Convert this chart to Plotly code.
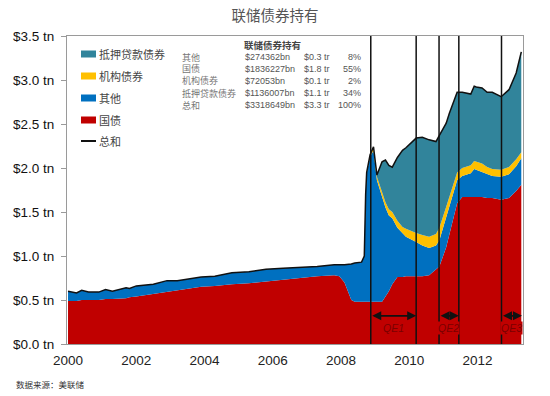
import plotly.graph_objects as go

# Decimal-year dates of observations
years = [2000.0, 2000.25, 2000.4, 2000.6, 2000.9, 2001.1, 2001.3, 2001.7, 2001.8, 2002.0,
         2002.5, 2002.9, 2003.2, 2003.5, 2003.9, 2004.3, 2004.8, 2005.3, 2005.8, 2006.3,
         2006.8, 2007.3, 2007.8, 2007.95, 2008.1, 2008.3, 2008.4, 2008.6, 2008.68, 2008.72,
         2008.75, 2008.85, 2008.95, 2009.05, 2009.2, 2009.3, 2009.4, 2009.5, 2009.65, 2009.8,
         2009.9, 2010.2, 2010.38, 2010.58, 2010.78, 2010.88, 2011.08, 2011.17, 2011.4, 2011.55,
         2011.8, 2011.9, 2011.96, 2012.13, 2012.28, 2012.43, 2012.69, 2012.92, 2013.13, 2013.28]

# Holdings in $ trillion
treasury = [0.49, 0.49, 0.50, 0.50, 0.50, 0.51, 0.51, 0.52, 0.53, 0.54,
            0.57, 0.59, 0.61, 0.63, 0.65, 0.66, 0.68, 0.69, 0.71, 0.73,
            0.75, 0.77, 0.78, 0.77, 0.70, 0.50, 0.48, 0.48, 0.48, 0.48,
            0.48, 0.48, 0.48, 0.48, 0.48, 0.54, 0.60, 0.68, 0.76, 0.76,
            0.77, 0.77, 0.77, 0.78, 0.84, 0.88, 1.10, 1.25, 1.60, 1.67,
            1.67, 1.67, 1.67, 1.67, 1.66, 1.66, 1.64, 1.66, 1.74, 1.81]
other = [0.11, 0.09, 0.11, 0.09, 0.09, 0.11, 0.09, 0.12, 0.10, 0.12,
         0.11, 0.13, 0.11, 0.11, 0.11, 0.11, 0.13, 0.13, 0.14, 0.13,
         0.12, 0.11, 0.12, 0.13, 0.20, 0.41, 0.44, 0.45, 0.52, 1.22,
         1.46, 1.65, 1.72, 1.38, 1.19, 1.01, 0.86, 0.75, 0.56, 0.50,
         0.45, 0.39, 0.35, 0.31, 0.28, 0.30, 0.35, 0.30, 0.26, 0.24,
         0.27, 0.32, 0.31, 0.29, 0.27, 0.25, 0.26, 0.27, 0.28, 0.30]
agency = [0, 0, 0, 0, 0, 0, 0, 0, 0, 0,
          0, 0, 0, 0, 0, 0, 0, 0, 0, 0,
          0, 0, 0, 0, 0, 0, 0, 0, 0, 0,
          0.01, 0.02, 0.04, 0.04, 0.06, 0.06, 0.07, 0.07, 0.08, 0.07,
          0.09, 0.10, 0.12, 0.13, 0.13, 0.14, 0.11, 0.12, 0.09, 0.09,
          0.09, 0.09, 0.09, 0.09, 0.08, 0.08, 0.08, 0.08, 0.08, 0.07]
mbs = [0, 0, 0, 0, 0, 0, 0, 0, 0, 0,
       0, 0, 0, 0, 0, 0, 0, 0, 0, 0,
       0, 0, 0, 0, 0, 0, 0, 0, 0, 0,
       0, 0, 0, 0.02, 0.34, 0.48, 0.50, 0.51, 0.72, 0.87,
       0.92, 1.08, 1.11, 1.10, 1.05, 1.05, 0.95, 0.95, 0.91, 0.86,
       0.81, 0.85, 0.85, 0.86, 0.85, 0.87, 0.83, 0.88, 0.98, 1.14]
total = [t + o + a + m for t, o, a, m in zip(treasury, other, agency, mbs)]

series_names = ["国债", "其他", "机构债券", "抵押贷款债券"]
series_colors = ["#C00000", "#0070C0", "#FFC000", "#31849B"]
total_name = "总和"
total_color = "#111111"

qe_lines = [2008.87, 2010.2, 2010.87, 2011.45, 2012.7]
qe_labels = ["QE1", "QE2", "QE3"]
qe_spans = [(2008.87, 2010.2), (2010.87, 2011.45), (2012.7, 2013.3)]

table_title = "联储债券持有"
table_rows = [
    ("其他", "$274362bn", "$0.3 tr", "8%"),
    ("国债", "$1836227bn", "$1.8 tr", "55%"),
    ("机构债券", "$72053bn", "$0.1 tr", "2%"),
    ("抵押贷款债券", "$1136007bn", "$1.1 tr", "34%"),
    ("总和", "$3318649bn", "$3.3 tr", "100%"),
]

y_ticks = [0, 0.5, 1.0, 1.5, 2.0, 2.5, 3.0, 3.5]
y_tick_text = ["$%.1f tn" % v for v in y_ticks]
x_ticks = [2000, 2002, 2004, 2006, 2008, 2010, 2012]

CJK = "Noto Sans CJK SC"
W, H = 550, 396
OFF = 8  # page body margin offset
L, R, T, B = 67 - OFF, 523 - OFF, 36 - OFF, 344 - OFF


def px_x(px):
    return (px - OFF - L) / (R - L)


def px_y(py):
    return (B - (py - OFF)) / (B - T)


fig = go.Figure()
for name, vals, col in zip(series_names, [treasury, other, agency, mbs], series_colors):
    fig.add_trace(go.Scatter(x=years, y=vals, name=name, stackgroup="s", mode="lines",
                             line=dict(width=0, color=col), fillcolor=col, showlegend=False))
fig.add_trace(go.Scatter(x=years, y=total, name=total_name, mode="lines",
                         line=dict(color=total_color, width=1.5), showlegend=False))

shapes = []
for xv in qe_lines:
    shapes.append(dict(type="line", xref="x", yref="y", x0=xv, x1=xv, y0=0, y1=3.5,
                       line=dict(color="#111111", width=1.5)))

annotations = []
for lab, (a, b) in zip(qe_labels, qe_spans):
    annotations.append(dict(x=b, y=0.32, ax=a, ay=0.32, xref="x", yref="y", axref="x", ayref="y",
                            text="", showarrow=True, arrowhead=2, arrowside="end+start",
                            arrowsize=1, arrowwidth=1.8, arrowcolor="#111111"))
    annotations.append(dict(x=(a + b) / 2, y=0.18, xref="x", yref="y", text="<i>%s</i>" % lab,
                            showarrow=False, bgcolor="#C00000", borderpad=0,
                            font=dict(family="Liberation Sans", size=10.5, color="#7A0000")))

# manual legend (entries in reference order)
leg_items = [(series_names[3], series_colors[3]), (series_names[2], series_colors[2]),
             (series_names[1], series_colors[1]), (series_names[0], series_colors[0]),
             (total_name, total_color)]
leg_y = [54, 76, 98, 120, 141]
for (name, col), ly in zip(leg_items, leg_y):
    if name == total_name:
        shapes.append(dict(type="line", xref="paper", yref="paper", x0=px_x(81), x1=px_x(96),
                           y0=px_y(ly), y1=px_y(ly), line=dict(color=col, width=2)))
    else:
        shapes.append(dict(type="rect", xref="paper", yref="paper", x0=px_x(81), x1=px_x(96),
                           y0=px_y(ly + 3.5), y1=px_y(ly - 3.5), line=dict(width=0), fillcolor=col))
    annotations.append(dict(x=px_x(97), y=px_y(ly), xref="paper", yref="paper", xanchor="left",
                            yanchor="middle", text=name, showarrow=False,
                            font=dict(family=CJK, size=11, color="#444444")))

# data table
annotations.append(dict(x=px_x(242), y=px_y(45), xref="paper", yref="paper", xanchor="left",
                        yanchor="middle", text="<b>%s</b>" % table_title, showarrow=False,
                        font=dict(family=CJK, size=9.5, color="#444444")))
row_y = [57, 69, 81, 93, 105]
for (c1, c2, c3, c4), ry in zip(table_rows, row_y):
    annotations.append(dict(x=px_x(180), y=px_y(ry), xref="paper", yref="paper", xanchor="left",
                            yanchor="middle", text=c1, showarrow=False,
                            font=dict(family=CJK, size=9, color="#777777")))
    annotations.append(dict(x=px_x(243), y=px_y(ry), xref="paper", yref="paper", xanchor="left",
                            yanchor="middle", text=c2, showarrow=False,
                            font=dict(family="Liberation Sans", size=9, color="#555555")))
    annotations.append(dict(x=px_x(302), y=px_y(ry), xref="paper", yref="paper", xanchor="left",
                            yanchor="middle", text=c3, showarrow=False,
                            font=dict(family="Liberation Sans", size=9, color="#555555")))
    annotations.append(dict(x=px_x(363), y=px_y(ry), xref="paper", yref="paper", xanchor="right",
                            yanchor="middle", text=c4, showarrow=False,
                            font=dict(family="Liberation Sans", size=9, color="#555555")))

annotations.append(dict(x=px_x(14), y=px_y(384), xref="paper", yref="paper", xanchor="left",
                        yanchor="middle", text="数据来源：美联储", showarrow=False,
                        font=dict(family=CJK, size=8.5, color="#333333")))

fig.update_layout(
    width=W, height=H,
    margin=dict(l=L, r=W - R, t=T, b=H - B, autoexpand=False),
    paper_bgcolor="white", plot_bgcolor="white",
    title=dict(text="联储债券持有", x=(275 - OFF) / W, xanchor="center",
               y=1 - (16 - OFF) / H, yanchor="middle",
               font=dict(family=CJK, size=14.5, color="#555555")),
    showlegend=False,
    shapes=shapes, annotations=annotations,
    xaxis=dict(range=[1999.97, 2013.33], tickvals=x_ticks, ticktext=[str(v) for v in x_ticks],
               showgrid=False, zeroline=False, showline=True, linecolor="#9a9a9a", mirror=True,
               ticks="", automargin=False, ticklabelstandoff=4,
               tickfont=dict(family="Liberation Sans", size=13.5, color="#222222")),
    yaxis=dict(range=[0, 3.5], tickvals=y_ticks, ticktext=y_tick_text, showgrid=False,
               zeroline=False, showline=True, linecolor="#9a9a9a", mirror=True, ticks="outside",
               ticklen=5, tickcolor="#9a9a9a", automargin=False, ticklabelstandoff=4,
               tickfont=dict(family="Liberation Sans", size=13.5, color="#111111")),
)

fig.write_html("out.html")
